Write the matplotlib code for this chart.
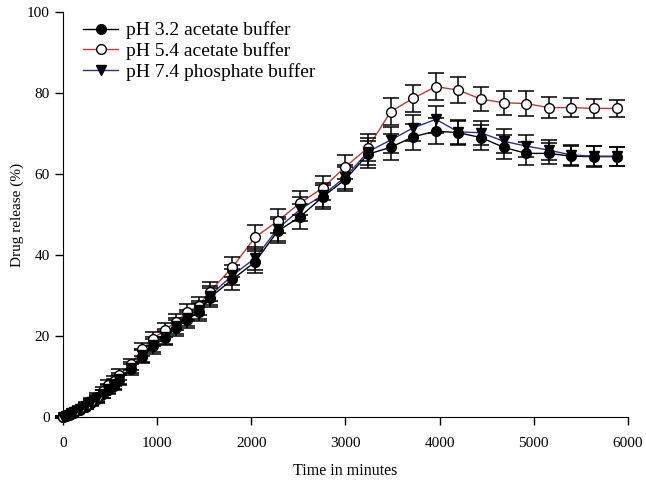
import numpy as np
import matplotlib.pyplot as plt

plt.rcParams['font.family'] = ['Liberation Serif', 'DejaVu Serif']

# sampling times (minutes)
time = [0, 30, 60, 90, 120, 180, 240, 300, 360, 420, 480, 540, 600, 720, 840,
        960, 1080, 1200, 1320, 1440, 1560, 1800, 2040, 2280, 2520, 2760, 3000,
        3240, 3480, 3720, 3960, 4200, 4440, 4680, 4920, 5160, 5400, 5640, 5880]

ph32 = [0, 0.2, 0.5, 0.8, 1.1, 1.8, 2.6, 3.5, 4.4, 5.6, 6.8, 7.8, 9.2, 11.8, 14.9,
        17.5, 19.5, 22.0, 24.0, 26.0, 29.5, 34.0, 38.3, 45.9, 49.5, 54.4, 58.7,
        64.9, 66.6, 69.2, 70.6, 70.2, 69.0, 66.6, 65.1, 65.1, 64.4, 64.3, 64.3]
ph54 = [0, 0.3, 0.6, 1.0, 1.4, 2.2, 3.0, 4.0, 5.0, 6.5, 8.0, 9.0, 10.5, 13.0, 16.7,
        19.3, 21.5, 23.5, 25.9, 27.5, 31.0, 37.0, 44.4, 48.4, 52.9, 56.6, 61.8,
        66.5, 75.4, 78.7, 81.6, 80.7, 78.5, 77.6, 77.4, 76.4, 76.4, 76.2, 76.2]
ph74 = [0, 0.2, 0.5, 0.9, 1.2, 1.9, 2.8, 3.7, 4.6, 5.8, 7.0, 8.1, 9.5, 12.2, 15.3,
        17.9, 19.9, 22.4, 24.5, 26.5, 30.0, 35.0, 39.2, 46.5, 51.3, 54.8, 59.3,
        65.5, 68.4, 71.4, 73.5, 70.4, 70.2, 68.1, 66.9, 65.9, 64.7, 64.4, 64.4]

err32 = [0.3, 0.3, 0.4, 0.4, 0.5, 0.6, 0.7, 0.8, 0.9, 1.0, 1.1, 1.2, 1.3, 1.4, 1.6,
         1.8, 1.8, 2.0, 2.0, 2.2, 2.3, 2.5, 2.8, 3.0, 3.0, 3.0, 3.0,
         3.3, 3.2, 3.2, 3.3, 3.0, 3.0, 3.0, 2.8, 2.5, 2.5, 2.5, 2.3]
err54 = [0.3, 0.3, 0.4, 0.4, 0.5, 0.6, 0.7, 0.8, 0.9, 1.0, 1.1, 1.2, 1.3, 1.4, 1.6,
         1.8, 1.8, 2.0, 2.0, 2.2, 2.3, 2.5, 3.0, 3.0, 3.0, 3.0, 3.0,
         3.3, 3.3, 3.3, 3.3, 3.2, 3.0, 3.0, 3.0, 2.5, 2.3, 2.3, 2.0]
err74 = [0.3, 0.3, 0.4, 0.4, 0.5, 0.6, 0.7, 0.8, 0.9, 1.0, 1.1, 1.2, 1.3, 1.4, 1.6,
         1.8, 1.8, 2.0, 2.0, 2.2, 2.3, 2.5, 2.8, 3.0, 3.0, 3.0, 3.0,
         3.3, 3.2, 3.2, 3.3, 3.0, 3.0, 3.0, 2.8, 2.5, 2.5, 2.5, 2.3]

labels = ['pH 3.2 acetate buffer', 'pH 5.4 acetate buffer', 'pH 7.4 phosphate buffer']

fig = plt.figure(figsize=(6.46, 4.8), dpi=100)
ax = fig.add_axes([0.0975, 0.131, 0.8745, 0.844])

series = [
    (ph32, err32, 'black', 'o', 'black'),
    (ph54, err54, '#c0393b', 'o', 'white'),
    (ph74, err74, '#2e3192', 'v', 'black'),
]
for (y, e, lc, mk, fc), lab in zip(series, labels):
    ax.plot(time, y, color=lc, lw=1, zorder=2, clip_on=False)
    ax.errorbar(time, y, yerr=e, fmt='none', ecolor='black', elinewidth=1.1,
                capsize=5.5, capthick=1.1, zorder=3, clip_on=False)
    ax.plot(time, y, ls='none', marker=mk, ms=7, mfc=fc, mec='black',
            mew=1, zorder=4, clip_on=False)
    # legend proxy
    ax.plot([], [], color=lc, lw=1, marker=mk, ms=7, mfc=fc, mec='black',
            mew=1, label=lab)

ax.set_xlim(0, 6000)
ax.set_ylim(0, 100)
ax.set_xticks(range(0, 6001, 1000))
ax.set_yticks(range(0, 101, 20))
ax.spines['top'].set_visible(False)
ax.spines['right'].set_visible(False)
ax.tick_params(direction='out', length=6, labelsize=11, width=1)
ax.tick_params(axis='x', pad=8)
ax.set_xlabel('Time in minutes', fontsize=11.5, labelpad=10)
ax.set_ylabel('Drug release (%)', fontsize=11, labelpad=2)

ax.legend(loc='upper left', bbox_to_anchor=(0.012, 1.01), frameon=False,
          fontsize=14, handlelength=1.8, labelspacing=0.15, handletextpad=0.4,
          borderaxespad=0.3)

fig.savefig('out.png', dpi=100)
